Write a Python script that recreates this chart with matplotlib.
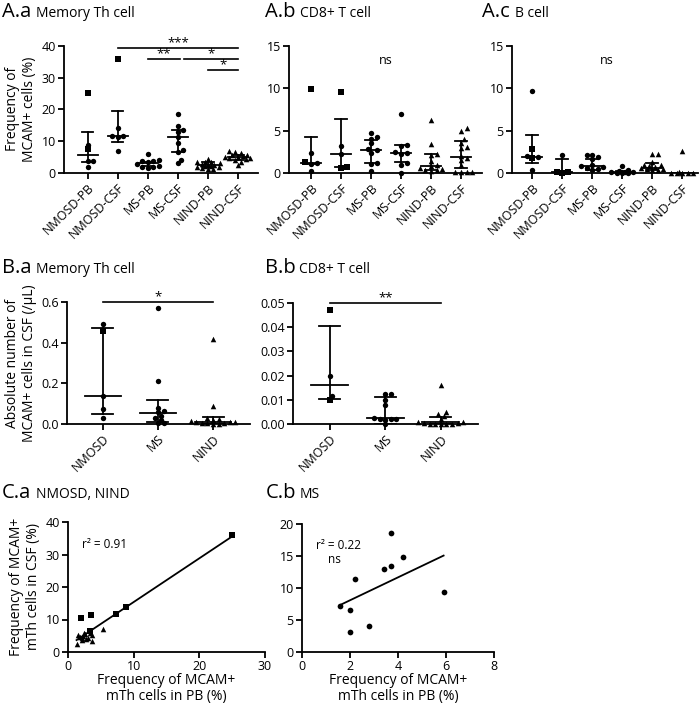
import numpy as np
import matplotlib
matplotlib.use('Agg')
import matplotlib.pyplot as plt
from matplotlib.ticker import FormatStrFormatter

plt.rcParams['font.family'] = ['Open Sans', 'DejaVu Sans']

# ---- data ----
groups_a = ['NMOSD-PB', 'NMOSD-CSF', 'MS-PB', 'MS-CSF', 'NIND-PB', 'NIND-CSF']
groups_b = ['NMOSD', 'MS', 'NIND']

# A.a memory Th cells, frequency of MCAM+ (%)
th_nmosd_pb = [25.1, 8.9, 7.5, 3.9, 3.8, 2.0]
th_nmosd_pb_sq = [1, 0, 1, 0, 0, 0]
th_nmosd_csf = [35.9, 14.1, 11.7, 11.5, 11.2, 6.8]
th_nmosd_csf_sq = [1, 0, 0, 0, 0, 0]
th_ms_pb = [5.9, 4.2, 3.7, 3.7, 3.4, 2.8, 2.2, 2.0, 2.0, 1.6]
th_ms_csf = [18.6, 14.8, 13.5, 13.0, 11.4, 9.3, 7.2, 6.5, 4.0, 3.1]
th_nind_pb = [4.5, 3.6, 3.4, 3.3, 3.0, 2.8, 2.6, 2.5, 2.3, 2.1, 2.0, 1.8, 1.6, 1.4, 1.2]
th_nind_csf = [7.0, 6.6, 6.2, 5.8, 5.5, 5.3, 5.1, 5.0, 4.8, 4.6, 4.3, 4.0, 3.6, 2.5]
th_med = [5.5, 11.6, 3.0, 11.3, 2.5, 5.0]
th_q1 = [3.3, 9.6, 2.1, 6.5, 1.9, 4.2]
th_q3 = [12.9, 19.5, 3.6, 13.5, 3.3, 5.5]

# A.b CD8+ T cells
cd8_nmosd_pb = [9.9, 2.4, 1.3, 1.2, 1.1, 0.2]
cd8_nmosd_pb_sq = [1, 0, 1, 0, 0, 0]
cd8_nmosd_csf = [9.6, 3.2, 2.2, 0.7, 0.6]
cd8_nmosd_csf_sq = [1, 0, 0, 1, 1]
cd8_ms_pb = [4.7, 4.2, 4.0, 3.5, 2.8, 2.7, 2.4, 1.2, 1.1, 0.2]
cd8_ms_csf = [7.0, 3.3, 3.2, 2.5, 2.4, 2.3, 1.2, 1.0, 0.05]
cd8_nind_pb = [6.3, 3.4, 2.2, 2.1, 1.4, 1.0, 0.8, 0.6, 0.5, 0.4, 0.3, 0.2]
cd8_nind_csf = [5.3, 5.0, 4.0, 3.6, 3.1, 2.9, 2.0, 1.8, 1.5, 1.0, 0.1, 0.1, 0.1, 0.1]
cd8_med = [1.2, 2.2, 2.7, 2.4, 0.8, 1.9]
cd8_q1 = [1.1, 0.65, 1.2, 1.3, 0.3, 0.6]
cd8_q3 = [4.2, 6.4, 3.9, 3.3, 2.2, 3.8]

# A.c B cells
b_nmosd_pb = [9.7, 2.8, 2.0, 1.9, 1.8, 0.4]
b_nmosd_pb_sq = [0, 1, 0, 0, 1, 0]
b_nmosd_csf = [2.1, 0.15, 0.1, 0.05]
b_nmosd_csf_sq = [0, 1, 1, 1]
b_ms_pb = [2.1, 2.1, 1.9, 1.6, 1.0, 0.8, 0.7, 0.6, 0.5, 0.4]
b_ms_csf = [0.8, 0.3, 0.2, 0.15, 0.1, 0.1, 0.05, 0.0, 0.0]
b_nind_pb = [2.2, 2.2, 1.3, 1.0, 0.9, 0.8, 0.7, 0.6, 0.5, 0.5, 0.4, 0.3]
b_nind_csf = [2.6, 0.1, 0.05, 0.0, 0.0, 0.0, 0.0]
b_med = [1.9, 0.1, 0.8, 0.1, 0.6, 0.0]
b_q1 = [1.2, 0.0, 0.4, 0.0, 0.4, 0.0]
b_q3 = [4.5, 1.6, 1.6, 0.25, 1.2, 0.0]

# B.a absolute number of MCAM+ memory Th cells in CSF (/uL)
abs_th_nmosd = [0.49, 0.455, 0.138, 0.074, 0.03]
abs_th_nmosd_sq = [0, 1, 0, 0, 0]
abs_th_ms = [0.57, 0.21, 0.08, 0.065, 0.06, 0.04, 0.03, 0.02, 0.005, 0.005]
abs_th_nind = [0.42, 0.09, 0.03, 0.025, 0.02, 0.015, 0.01, 0.01, 0.008, 0.005, 0.005, 0.003, 0.002, 0.0]
abs_th_med = [0.14, 0.055, 0.012]
abs_th_q1 = [0.05, 0.01, 0.0]
abs_th_q3 = [0.47, 0.12, 0.035]

# B.b absolute number of MCAM+ CD8+ T cells in CSF (/uL)
abs_cd8_nmosd = [0.047, 0.020, 0.0115, 0.010]
abs_cd8_nmosd_sq = [1, 0, 0, 1]
abs_cd8_ms = [0.0125, 0.0125, 0.010, 0.008, 0.0025, 0.0022, 0.002, 0.002, 0.0018, 0.0]
abs_cd8_nind = [0.016, 0.005, 0.004, 0.0035, 0.002, 0.001, 0.0008, 0.0005, 0.0003, 0.0002, 0.0001, 0.0, 0.0, 0.0]
abs_cd8_med = [0.016, 0.0025, 0.0008]
abs_cd8_q1 = [0.0105, 0.0, 0.0]
abs_cd8_q3 = [0.0405, 0.011, 0.003]

# C.a paired PB / CSF frequencies, NMOSD (squares) and NIND (triangles)
ca_nmosd_pb = [25.0, 8.8, 7.3, 3.5, 2.0, 3.3]
ca_nmosd_csf = [36.0, 14.0, 11.6, 11.3, 10.4, 6.6]
ca_nind_pb = [1.3, 1.5, 1.9, 2.1, 2.3, 2.4, 2.6, 2.8, 3.0, 3.4, 3.6, 3.7, 5.4, 2.2]
ca_nind_csf = [2.5, 5.2, 4.6, 4.2, 5.0, 6.0, 5.4, 4.1, 4.4, 5.8, 3.5, 5.2, 7.2, 3.8]

# C.b paired PB / CSF frequencies, MS
cb_ms_pb = [1.6, 2.0, 2.0, 2.2, 2.8, 3.4, 3.7, 3.7, 4.2, 5.9]
cb_ms_csf = [7.2, 6.5, 3.1, 11.4, 4.0, 13.0, 13.5, 18.6, 14.8, 9.3]

# ---- figure ----
W, H = 700, 707
fig = plt.figure(figsize=(W / 100, H / 100), dpi=100)


def px_axes(x0, x1, ytop, ybot):
    ax = fig.add_axes([x0 / W, 1 - ybot / H, (x1 - x0) / W, (ybot - ytop) / H])
    for s in ['top', 'right']:
        ax.spines[s].set_visible(False)
    for s in ['left', 'bottom']:
        ax.spines[s].set_linewidth(1.3)
    ax.tick_params(direction='out', length=4, width=1.3, labelsize=9, pad=2)
    return ax


def swarm(vals, px_y, px_x, d=4.0, max_px=13.0):
    # simple deterministic beeswarm offsets, capped in width
    ypx = np.asarray(vals, float) * px_y
    offs = np.zeros(len(ypx))
    placed = []
    for i in np.argsort(ypx):
        k = 0
        pos = None
        while pos is None:
            step = k * d * 0.7
            if step > max_px:
                # no free slot within the width: fall back to the least crowded spot
                cands = np.linspace(-max_px, max_px, 9)
                score = [min([(c - a) ** 2 + (ypx[i] - b) ** 2 for a, b in placed] or [1e9]) for c in cands]
                pos = float(cands[int(np.argmax(score))])
                break
            cands = [0.0] if k == 0 else [step, -step]
            for cx in cands:
                if all((cx - a) ** 2 + (ypx[i] - b) ** 2 >= d * d for a, b in placed):
                    pos = cx
                    break
            k += 1
        placed.append((pos, ypx[i]))
        offs[i] = pos / px_x
    return offs


def dot_panel(ax, labels, vals_list, sq_list, med, q1, q3, px_w, px_h):
    x0, x1 = ax.get_xlim()
    y0, y1 = ax.get_ylim()
    px_x = px_w / (x1 - x0)
    px_y = px_h / (y1 - y0)
    for i, vals in enumerate(vals_list):
        vals = np.asarray(vals, float)
        offs = swarm(vals, px_y, px_x, max_px=0.42 * px_x)
        sq = sq_list[i]
        if sq is None:
            mk = np.full(len(vals), '^' if 'NIND' in labels[i] else 'o')
        else:
            mk = np.where(np.asarray(sq) == 1, 's', 'o')
        for m in np.unique(mk):
            sel = mk == m
            size = {'o': 15, 's': 14, '^': 16}[m]
            ax.scatter(i + offs[sel], vals[sel], marker=m, s=size, c='black',
                       linewidths=0, clip_on=False, zorder=3)
        ax.plot([i - 0.33, i + 0.33], [med[i]] * 2, color='black', lw=1.3, zorder=4)
        ax.plot([i, i], [q1[i], q3[i]], color='black', lw=1.3, zorder=4)
        for q in (q1[i], q3[i]):
            ax.plot([i - 0.19, i + 0.19], [q, q], color='black', lw=1.3, zorder=4)


def sig(ax, xa, xb, y, txt, dy):
    ax.plot([xa, xb], [y, y], color='black', lw=1.2, clip_on=False)
    ax.text((xa + xb) / 2, y + dy, txt, ha='center', va='baseline', fontsize=9.5)


def panel_title(x, y, big, small, x2):
    fig.text(x / W, 1 - y / H, big, fontsize=14.5, va='baseline')
    fig.text(x2 / W, 1 - y / H, small, fontsize=10, va='baseline')


# row A
a_specs = [
    (64, 258, 45.7, 173, (-0.79, 5.67), 40, [0, 10, 20, 30, 40],
     [th_nmosd_pb, th_nmosd_csf, th_ms_pb, th_ms_csf, th_nind_pb, th_nind_csf],
     [th_nmosd_pb_sq, th_nmosd_csf_sq, None, None, None, None], th_med, th_q1, th_q3),
    (289, 482, 46, 173, (-0.73, 5.7), 15, [0, 5, 10, 15],
     [cd8_nmosd_pb, cd8_nmosd_csf, cd8_ms_pb, cd8_ms_csf, cd8_nind_pb, cd8_nind_csf],
     [cd8_nmosd_pb_sq, cd8_nmosd_csf_sq, None, None, None, None], cd8_med, cd8_q1, cd8_q3),
    (512, 698, 46, 173, (-0.67, 5.53), 15, [0, 5, 10, 15],
     [b_nmosd_pb, b_nmosd_csf, b_ms_pb, b_ms_csf, b_nind_pb, b_nind_csf],
     [b_nmosd_pb_sq, b_nmosd_csf_sq, None, None, None, None], b_med, b_q1, b_q3),
]
axes_a = []
for x0, x1, yt, yb, xl, ymax, yt_ticks, vals, sqs, md, lo, hi in a_specs:
    ax = px_axes(x0, x1, yt, yb)
    ax.set_xlim(*xl)
    ax.set_ylim(0, ymax)
    ax.set_yticks(yt_ticks)
    ax.set_xticks(range(len(groups_a)))
    ax.set_xticklabels(groups_a, rotation=45, ha='right', rotation_mode='anchor', fontsize=9)
    dot_panel(ax, groups_a, vals, sqs, md, lo, hi, x1 - x0, yb - yt)
    axes_a.append(ax)

axes_a[0].set_ylabel('Frequency of\nMCAM+ cells (%)', fontsize=10, labelpad=3)
sig(axes_a[0], 1, 5, 39.2, '***', 0.6)
sig(axes_a[0], 2, 3.08, 35.8, '**', 0.6)
sig(axes_a[0], 3.2, 5, 35.8, '*', 0.6)
sig(axes_a[0], 4, 5, 32.4, '*', 0.6)
axes_a[1].text(2.5, 13.3, 'ns', ha='center', va='center', fontsize=9)
axes_a[2].text(2.5, 13.3, 'ns', ha='center', va='center', fontsize=9)

panel_title(2, 17, 'A.a', 'Memory Th cell', 36)
panel_title(265, 17, 'A.b', 'CD8+ T cell', 300)
panel_title(482, 17, 'A.c', 'B cell', 515)

# row B
b_specs = [
    (67, 250, 302, 424, (-0.65, 2.67), 0.6, np.arange(0, 0.61, 0.2), '%.1f',
     [abs_th_nmosd, abs_th_ms, abs_th_nind], [abs_th_nmosd_sq, None, None],
     abs_th_med, abs_th_q1, abs_th_q3),
    (293, 478, 303, 424, (-0.66, 2.67), 0.05, np.arange(0, 0.051, 0.01), '%.2f',
     [abs_cd8_nmosd, abs_cd8_ms, abs_cd8_nind], [abs_cd8_nmosd_sq, None, None],
     abs_cd8_med, abs_cd8_q1, abs_cd8_q3),
]
axes_b = []
for x0, x1, yt, yb, xl, ymax, yt_ticks, fmt, vals, sqs, md, lo, hi in b_specs:
    ax = px_axes(x0, x1, yt, yb)
    ax.set_xlim(*xl)
    ax.set_ylim(0, ymax)
    ax.set_yticks(yt_ticks)
    ax.yaxis.set_major_formatter(FormatStrFormatter(fmt))
    ax.set_xticks(range(len(groups_b)))
    ax.set_xticklabels(groups_b, rotation=45, ha='right', rotation_mode='anchor', fontsize=9)
    dot_panel(ax, groups_b, vals, sqs, md, lo, hi, x1 - x0, yb - yt)
    axes_b.append(ax)

axes_b[0].set_ylabel('Absolute number of\nMCAM+ cells in CSF (/\u03bcL)', fontsize=10, labelpad=3)
sig(axes_b[0], 0, 2, 0.6, '*', 0.008)
sig(axes_b[1], 0, 2, 0.05, '**', 0.0007)

panel_title(2, 273, 'B.a', 'Memory Th cell', 36)
panel_title(265, 273, 'B.b', 'CD8+ T cell', 299)

# row C
ax = px_axes(68, 265, 522, 652)
ax.set_xlim(0, 30)
ax.set_ylim(0, 40)
ax.set_xticks([0, 10, 20, 30])
ax.set_yticks([0, 10, 20, 30, 40])
ax.scatter(ca_nmosd_pb, ca_nmosd_csf, marker='s', s=15, c='black', linewidths=0, clip_on=False, zorder=3)
ax.scatter(ca_nind_pb, ca_nind_csf, marker='^', s=16, c='black', linewidths=0, clip_on=False, zorder=3)
xa = np.array(ca_nmosd_pb + ca_nind_pb)
ya = np.array(ca_nmosd_csf + ca_nind_csf)
k, b0 = np.polyfit(xa, ya, 1)
xs = np.array([xa.min(), xa.max()])
ax.plot(xs, k * xs + b0, color='black', lw=1.3)
ax.text(2.2, 33, 'r\u00b2 = 0.91', fontsize=8.5, va='center')
ax.set_ylabel('Frequency of MCAM+\nmTh cells in CSF (%)', fontsize=10, labelpad=3)
ax.set_xlabel('Frequency of MCAM+\nmTh cells in PB (%)', fontsize=10, labelpad=0, linespacing=1.05)

ax = px_axes(302, 494, 524, 652)
ax.set_xlim(0, 8)
ax.set_ylim(0, 20)
ax.set_xticks([0, 2, 4, 6, 8])
ax.set_yticks([0, 5, 10, 15, 20])
ax.scatter(cb_ms_pb, cb_ms_csf, marker='o', s=17, c='black', linewidths=0, clip_on=False, zorder=3)
xb = np.array(cb_ms_pb)
yb_ = np.array(cb_ms_csf)
k, b0 = np.polyfit(xb, yb_, 1)
xs = np.array([xb.min(), xb.max()])
ax.plot(xs, k * xs + b0, color='black', lw=1.3)
ax.text(0.6, 16.7, 'r\u00b2 = 0.22', fontsize=8.5, va='center')
ax.text(1.1, 14.4, 'ns', fontsize=8.5, va='center')
ax.set_xlabel('Frequency of MCAM+\nmTh cells in PB (%)', fontsize=10, labelpad=0, linespacing=1.05)

panel_title(2, 498, 'C.a', 'NMOSD, NIND', 36)
panel_title(266, 498, 'C.b', 'MS', 300)

fig.savefig('out.png', dpi=100)
